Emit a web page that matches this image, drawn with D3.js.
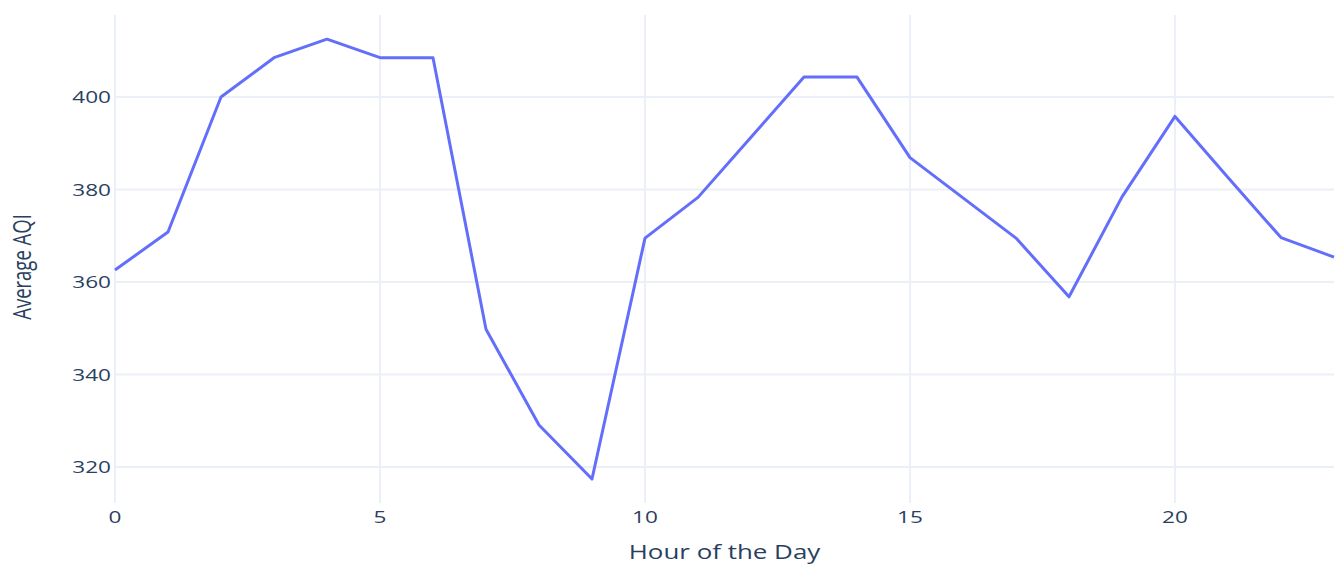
<!DOCTYPE html>
<html>
<head>
<meta charset="utf-8">
<script src="https://cdn.jsdelivr.net/npm/d3@7"></script>
<style>
  body { margin: 0; background: #fff; }
  text { font-family: "Open Sans", Verdana, Arial, sans-serif; fill: #2a3f5f; }
</style>
</head>
<body>
<script>
// average AQI for each hour of the day
var hours = [0, 1, 2, 3, 4, 5, 6, 7, 8, 9, 10, 11, 12, 13, 14, 15, 16, 17, 18, 19, 20, 21, 22, 23];
var aqi = [362.6, 370.8, 400.0, 408.5, 412.5, 408.5, 408.5, 349.8, 329.1, 317.4, 369.5, 378.3,
           391.3, 404.3, 404.3, 386.9, 378.2, 369.5, 356.8, 378.4, 395.8, 382.6, 369.6, 365.4];
var xTicks = [0, 5, 10, 15, 20];
var yTicks = [320, 340, 360, 380, 400];

var width = 1337;
var height = 565;
var sx = 1.33; // picture is stretched sideways, so the text is too

var svg = d3.select("body")
            .append("svg")
            .attr("width", width)
            .attr("height", height);

var x = d3.scaleLinear()
          .domain([0, 23])
          .range([115, 1334]);

var y = d3.scaleLinear()
          .domain([312.22, 417.73])
          .range([503, 15]);

// grid
svg.selectAll(".vgrid")
   .data(xTicks)
   .enter()
   .append("line")
   .attr("x1", function(d) { return x(d); })
   .attr("x2", function(d) { return x(d); })
   .attr("y1", 15)
   .attr("y2", 503)
   .attr("stroke", "#ebf0f8")
   .attr("stroke-width", 2);

svg.selectAll(".hgrid")
   .data(yTicks)
   .enter()
   .append("line")
   .attr("x1", 115)
   .attr("x2", 1334)
   .attr("y1", function(d) { return y(d); })
   .attr("y2", function(d) { return y(d); })
   .attr("stroke", "#ebf0f8")
   .attr("stroke-width", 2);

// tick labels
svg.selectAll(".ylab")
   .data(yTicks)
   .enter()
   .append("text")
   .text(function(d) { return d; })
   .attr("text-anchor", "end")
   .attr("dominant-baseline", "central")
   .attr("font-size", 17)
   .attr("transform", function(d) {
     return "translate(111," + y(d) + ") scale(" + sx + ",1)";
   });

svg.selectAll(".xlab")
   .data(xTicks)
   .enter()
   .append("text")
   .text(function(d) { return d; })
   .attr("text-anchor", "middle")
   .attr("dominant-baseline", "central")
   .attr("font-size", 17)
   .attr("transform", function(d) {
     return "translate(" + x(d) + ",517) scale(" + sx + ",1)";
   });

// axis titles
svg.append("text")
   .text("Hour of the Day")
   .attr("text-anchor", "middle")
   .attr("font-size", 19.5)
   .attr("transform", "translate(" + ((115 + 1334) / 2) + ",559) scale(" + sx + ",1)");

svg.append("text")
   .text("Average AQI")
   .attr("text-anchor", "middle")
   .attr("font-size", 18.5)
   .attr("transform", "translate(31,267) scale(" + sx + ",1) rotate(-90)");

// the line
var line = d3.line()
             .x(function(d, i) { return x(hours[i]); })
             .y(function(d) { return y(d); });

svg.append("path")
   .datum(aqi)
   .attr("d", line)
   .attr("fill", "none")
   .attr("stroke", "#636efa")
   .attr("stroke-width", 3)
   .attr("stroke-linejoin", "round");
</script>
</body>
</html>
